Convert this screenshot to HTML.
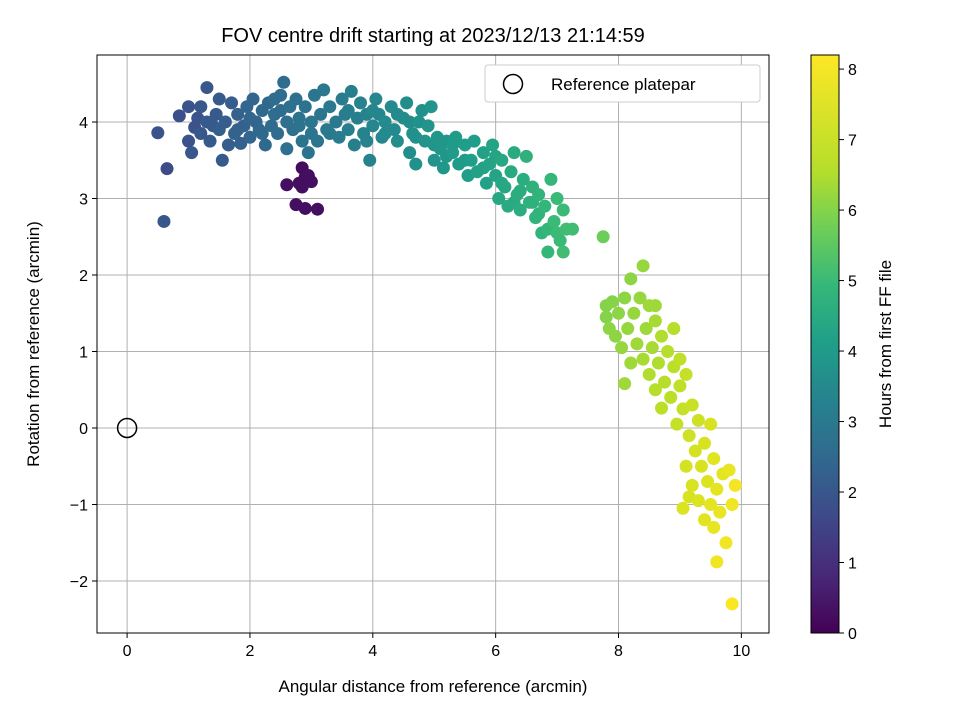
<!DOCTYPE html>
<html><head><meta charset="utf-8"><style>
body{margin:0;background:#fff;font-family:"Liberation Sans",sans-serif}
</style></head><body>
<svg id="chart" width="960" height="720" xmlns="http://www.w3.org/2000/svg" font-family="Liberation Sans, sans-serif">
<defs><linearGradient id="vir" x1="0" y1="1" x2="0" y2="0">
<stop offset="0" stop-color="#440154"/><stop offset="0.1" stop-color="#482878"/><stop offset="0.2" stop-color="#3e4989"/><stop offset="0.3" stop-color="#31688e"/><stop offset="0.4" stop-color="#26828e"/><stop offset="0.5" stop-color="#1f9e89"/><stop offset="0.6" stop-color="#35b779"/><stop offset="0.7" stop-color="#6ece58"/><stop offset="0.8" stop-color="#b5de2b"/><stop offset="1" stop-color="#fde725"/></linearGradient>
<clipPath id="pc"><rect x="97" y="55" width="672" height="578"/></clipPath></defs>
<text x="433" y="42" font-size="20" text-anchor="middle">FOV centre drift starting at 2023/12/13 21:14:59</text>
<g id="grid"></g>
<g id="pts" clip-path="url(#pc)"></g>
<rect x="97" y="55" width="672" height="578" fill="none" stroke="#000" stroke-width="1"/>
<g id="axes"></g>
<text x="433" y="692" font-size="17" text-anchor="middle">Angular distance from reference (arcmin)</text>
<text transform="translate(39,344) rotate(-90)" font-size="17" text-anchor="middle">Rotation from reference (arcmin)</text>
<g>
<rect x="485" y="65" width="275" height="37" rx="3" fill="#fff" stroke="#ccc"/>
<circle cx="513" cy="84" r="9.5" fill="none" stroke="#000" stroke-width="1.5"/>
<text x="551" y="90" font-size="17">Reference platepar</text></g>
<rect x="811" y="55" width="28" height="578" fill="url(#vir)" stroke="#000" stroke-width="1"/>
<g id="cbar"></g>
<text transform="translate(891,344) rotate(-90)" font-size="17" text-anchor="middle">Hours from first FF file</text>
</svg>
<script>
const xTicks=[0,2,4,6,8,10];
const yTicks=[-2,-1,0,1,2,3,4];
const cTicks=[0,1,2,3,4,5,6,7,8];
const ptX=[0.85,1.0,1.0,1.05,1.1,1.2,1.2,1.3,1.3,1.35,1.45,1.5,1.5,1.55,1.6,1.65,1.7,1.75,1.8,1.85,1.9,1.95,2.0,2.05,2.1,2.15,2.2,2.25,2.3,2.35,2.4,2.45,2.5,2.55,2.6,2.6,2.65,2.7,2.75,2.8,2.85,2.9,2.95,3.0,3.05,3.1,3.15,3.2,3.25,3.3,3.4,3.45,3.5,3.55,3.6,3.65,3.7,3.75,3.8,3.85,3.9,3.95,4.0,4.05,4.1,4.15,4.2,4.3,4.35,4.4,4.5,4.55,4.6,4.65,4.7,4.75,4.8,4.85,4.9,4.95,5.0,5.05,5.1,5.15,5.2,5.3,5.35,5.4,5.5,5.55,5.6,5.65,5.7,5.8,5.85,5.9,5.95,6.0,6.05,6.1,6.15,6.2,6.25,6.3,6.35,6.4,6.45,6.5,6.55,6.6,6.65,6.7,6.75,6.8,6.85,6.9,6.95,7.0,7.05,7.1,7.1,7.15,7.25,7.75,
7.8,7.8,7.85,7.9,7.95,8.0,8.05,8.1,8.1,8.15,8.2,8.2,8.25,8.3,8.35,8.4,8.4,8.45,8.5,8.5,8.55,8.6,8.6,8.65,8.7,8.7,8.75,8.8,8.85,8.9,8.9,8.95,9.0,9.05,9.1,9.1,9.15,9.2,9.2,9.25,9.3,9.3,9.35,9.4,9.4,9.45,9.5,9.5,9.55,9.55,9.6,9.6,9.65,9.7,9.75,9.8,9.85,9.9,9.05,9.15,9.85,9.0,8.6,
2.6,2.75,2.8,2.85,2.9,2.95,3.0,2.9,3.1,2.85,0.5,0.65,0.6,
2.0,2.2,2.4,2.8,3.3,3.6,3.9,4.2,4.4,4.7,5.2,5.5,5.8,6.1,6.4,6.7,1.8,1.4,1.15,2.5,3.0,4.0,4.6,5.0,5.3,6.0,6.3,6.6,6.85,7.0];
const ptY=[4.08,4.2,3.75,3.6,3.93,4.2,3.85,4.45,4.0,3.75,4.1,3.9,4.3,3.5,4.0,3.7,4.25,3.85,4.1,3.72,3.95,4.2,3.8,4.3,4.0,3.9,4.15,3.7,4.25,3.95,4.1,3.85,4.35,4.52,4.0,3.65,4.2,3.9,4.3,4.05,3.75,4.2,3.6,4.0,4.35,3.75,4.1,4.42,3.9,4.2,4.0,3.8,4.3,4.1,3.9,4.4,3.7,4.05,4.25,3.85,4.1,3.5,3.95,4.3,4.1,3.8,4.0,4.2,3.9,3.75,4.05,4.25,3.6,3.85,3.45,4.0,4.15,3.75,3.95,4.2,3.5,3.8,3.65,3.4,3.75,3.6,3.8,3.45,3.7,3.3,3.5,3.75,3.35,3.6,3.2,3.45,3.7,3.3,3.0,3.5,3.15,2.9,3.35,3.6,3.05,2.85,3.25,3.55,2.95,3.15,2.75,3.05,2.55,2.9,2.3,3.25,2.7,3.0,2.45,2.3,2.85,2.6,2.6,2.5,
1.6,1.45,1.3,1.65,1.2,1.5,1.05,1.7,0.58,1.3,0.85,1.95,1.5,1.1,1.7,0.9,2.12,1.3,0.7,1.6,1.05,1.4,0.5,0.85,1.2,0.26,0.6,1.0,0.4,0.8,1.3,0.05,0.55,0.25,0.7,-0.5,-0.1,0.3,-0.75,-0.3,0.1,-0.95,-0.5,-0.2,-1.2,-0.7,-1.0,0.05,-0.4,-1.3,-0.8,-1.75,-1.1,-0.6,-1.5,-0.55,-1.0,-0.75,-1.05,-0.9,-2.3,0.9,1.6,
3.18,2.92,3.2,3.4,3.28,3.3,3.22,2.87,2.86,3.15,3.86,3.39,2.7,
4.05,3.85,4.3,3.95,3.85,4.15,3.75,3.85,4.1,3.8,3.55,3.5,3.4,3.2,3.1,2.8,3.9,3.95,4.05,4.15,3.85,4.15,4.0,3.7,3.7,3.55,2.95,2.95,2.6,2.55];
const ptH=[1.8,1.9,1.9,2.0,1.9,2.0,2.0,2.0,2.1,2.1,2.1,2.2,2.1,2.1,2.2,2.2,2.2,2.3,2.3,2.3,2.3,2.4,2.4,2.4,2.4,2.5,2.5,2.5,2.5,2.6,2.6,2.6,2.6,2.6,2.7,2.7,2.7,2.7,2.7,2.8,2.8,2.8,2.8,2.9,2.9,2.9,2.9,3.0,3.0,3.0,3.0,3.1,3.1,3.1,3.2,3.2,3.2,3.2,3.3,3.3,3.3,3.3,3.4,3.4,3.4,3.4,3.5,3.5,3.5,3.6,3.6,3.6,3.6,3.7,3.7,3.7,3.7,3.8,3.8,3.8,3.8,3.9,3.9,3.9,3.9,4.0,4.0,4.0,4.1,4.1,4.1,4.1,4.2,4.2,4.2,4.3,4.3,4.3,4.4,4.4,4.4,4.5,4.5,4.5,4.6,4.6,4.6,4.7,4.7,4.7,4.8,4.8,4.8,4.9,4.9,4.9,5.0,5.0,5.0,5.1,5.0,5.1,5.1,5.7,
6.0,6.0,6.1,6.0,6.1,6.1,6.2,6.1,6.3,6.2,6.3,6.1,6.2,6.3,6.2,6.4,6.2,6.3,6.5,6.3,6.4,6.4,6.6,6.5,6.5,6.7,6.6,6.6,6.7,6.7,6.6,6.9,6.8,6.9,6.9,7.2,7.1,7.0,7.3,7.2,7.1,7.4,7.3,7.3,7.5,7.4,7.6,7.3,7.5,7.7,7.6,7.9,7.7,7.6,7.9,7.7,7.9,8.0,7.4,7.3,8.1,6.8,6.3,
0.3,0.3,0.3,0.2,0.2,0.3,0.3,0.3,0.3,0.3,1.9,1.7,2.0,
2.4,2.5,2.6,2.8,3.0,3.2,3.3,3.5,3.5,3.7,3.9,4.0,4.2,4.4,4.6,4.8,2.3,2.1,1.9,2.6,2.9,3.4,3.6,3.8,4.0,4.3,4.5,4.7,4.9,5.0];
const NS="http://www.w3.org/2000/svg";
const X0=97,X1=769,Y0=55,Y1=633,xmin=-0.49,xmax=10.45,ymin=-2.68,ymax=4.876,cmax=8.2;
const sx=v=>X0+(v-xmin)/(xmax-xmin)*(X1-X0);
const sy=v=>Y1-(v-ymin)/(ymax-ymin)*(Y1-Y0);
const sc=v=>Y1-v/cmax*(Y1-Y0);
const stops=[[68,1,84],[72,40,120],[62,73,137],[49,104,142],[38,130,142],[31,158,137],[53,183,121],[110,206,88],[181,222,43],[219,227,32],[253,231,37]];
function vir(h){let t=Math.max(0,Math.min(1,h/cmax))*10;let i=Math.min(9,Math.floor(t)),f=t-i;const a=stops[i],b=stops[i+1];return `rgb(${a.map((c,k)=>Math.round(c+(b[k]-c)*f)).join(',')})`;}
function mk(tag,at,parent){const e=document.createElementNS(NS,tag);for(const k in at)e.setAttribute(k,at[k]);parent.appendChild(e);return e;}
const grid=document.getElementById('grid'),axes=document.getElementById('axes'),pts=document.getElementById('pts'),cb=document.getElementById('cbar');
xTicks.forEach(t=>{const x=sx(t);
const g=mk('line',{x1:x,x2:x,y1:Y0,y2:Y1,stroke:'#b0b0b0','stroke-width':1},grid);


mk('line',{x1:x,x2:x,y1:Y1,y2:Y1+5,stroke:'#000'},axes);
const l=mk('text',{x:x,y:Y1+23,'font-size':16,'text-anchor':'middle'},axes);l.textContent=t;

});
yTicks.forEach(t=>{const y=sy(t);
const g=mk('line',{x1:X0,x2:X1,y1:y,y2:y,stroke:'#b0b0b0','stroke-width':1},grid);


mk('line',{x1:X0-5,x2:X0,y1:y,y2:y,stroke:'#000'},axes);
const l=mk('text',{x:X0-9,y:y+6,'font-size':16,'text-anchor':'end'},axes);l.textContent=t<0?'\u2212'+(-t):t;

});
cTicks.forEach(t=>{const y=sc(t);
mk('line',{x1:839,x2:844,y1:y,y2:y,stroke:'#000'},cb);
const l=mk('text',{x:848,y:y+6,'font-size':16},cb);l.textContent=t;

});
const idx=ptX.map((_,i)=>i).sort((a,b)=>ptH[a]-ptH[b]);
idx.forEach(i=>{const c=mk('circle',{cx:sx(ptX[i]),cy:sy(ptY[i]),r:6.5,fill:vir(ptH[i])},pts);

});
const ref=mk('circle',{cx:sx(0),cy:sy(0),r:9.5,fill:'none',stroke:'#000','stroke-width':1.5},pts);


</script>
</body></html>
